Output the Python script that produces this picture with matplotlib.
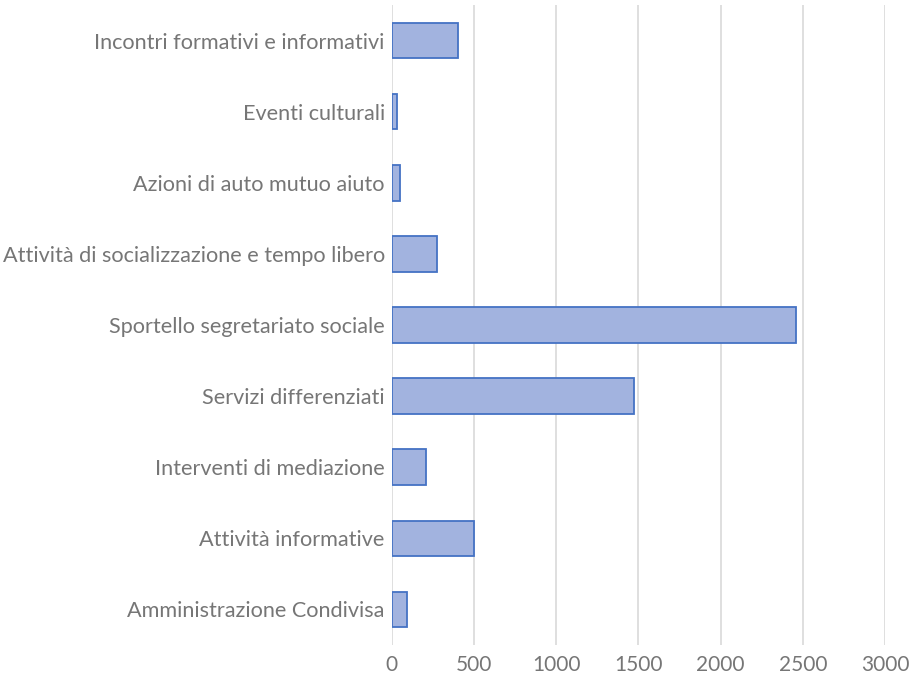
import numpy as np
import matplotlib.pyplot as plt

categories = [
    "Incontri formativi e informativi",
    "Eventi culturali",
    "Azioni di auto mutuo aiuto",
    "Attività di socializzazione e tempo libero",
    "Sportello segretariato sociale",
    "Servizi differenziati",
    "Interventi di mediazione",
    "Attività informative",
    "Amministrazione Condivisa",
]
values = [400, 30, 52, 273, 2460, 1475, 209, 500, 91]
xticks = [0, 500, 1000, 1500, 2000, 2500, 3000]

plt.rcParams['font.family'] = ['Lato', 'DejaVu Sans']

fig = plt.figure(figsize=(9.11, 6.73), dpi=100)
ax = fig.add_axes([0.43, 0.0416, 0.5415, 0.951])

y = np.arange(len(categories))[::-1]
ax.barh(y, values, height=0.5, color="#a2b3df", edgecolor="#4472c4", linewidth=1.3, zorder=3)

ax.set_xlim(0, 3000)
ax.set_ylim(-0.5, len(categories) - 0.5)
ax.set_xticks(xticks)
ax.set_yticks(y)
ax.set_yticklabels(categories)
ax.tick_params(axis="y", length=0, labelsize=15.6, colors="#767676", pad=5)
ax.tick_params(axis="x", length=0, labelsize=15, colors="#767676", pad=7)
ax.grid(axis="x", color="#d9d9d9", linewidth=1.2, zorder=0)
for s in ax.spines.values():
    s.set_visible(False)

fig.savefig("out.png", dpi=100, facecolor="white")
